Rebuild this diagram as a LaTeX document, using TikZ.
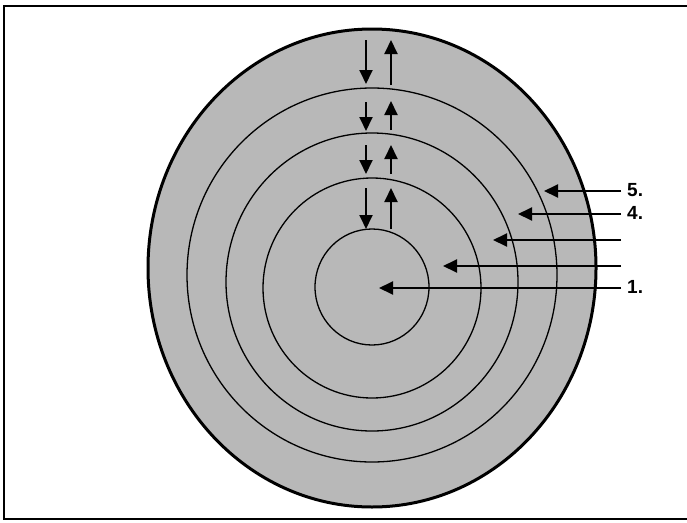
\documentclass[tikz,border=0pt]{standalone}
\usepackage{fontspec}
\setmainfont{Liberation Sans}
\usetikzlibrary{arrows.meta}
\definecolor{ringgray}{RGB}{184,184,184}
\tikzset{
  ring/.style={draw=black, line width=1.3pt},
  outerring/.style={draw=black, line width=3pt},
  flow/.style={line width=1.9pt, -{Triangle[length=14pt,width=13pt]}},
  lbl/.style={font={\fontsize{19}{19}\selectfont\bfseries}, anchor=west, inner sep=0pt},
  frame/.style={line width=2.6pt}
}
\begin{document}
\begin{tikzpicture}[x=1pt,y=-1pt]
\useasboundingbox (0,0) rectangle (687,522);
% frame
\draw[frame] (687,6) -- (4,6) -- (4,519) -- (687,519);
% rings
\fill[ringgray] (372,268) ellipse [x radius=224, y radius=239];
\draw[ring] (372,275) ellipse [x radius=185, y radius=187];
\draw[ring] (372,282) ellipse [x radius=146, y radius=149];
\draw[ring] (372,288) ellipse [x radius=109, y radius=110];
\draw[ring] (372,287) ellipse [x radius=57, y radius=58];
\draw[outerring] (372,268) ellipse [x radius=224, y radius=239];
% vertical arrow endpoints
\coordinate (d1s) at (366,40);  \coordinate (d1e) at (366,84);
\coordinate (u1s) at (391,85);  \coordinate (u1e) at (391,40);
\coordinate (d2s) at (366,102); \coordinate (d2e) at (366,131);
\coordinate (u2s) at (391,130); \coordinate (u2e) at (391,101);
\coordinate (d3s) at (366,145); \coordinate (d3e) at (366,174);
\coordinate (u3s) at (391,174); \coordinate (u3e) at (391,145);
\coordinate (d4s) at (366,188); \coordinate (d4e) at (366,229);
\coordinate (u4s) at (391,229); \coordinate (u4e) at (391,188);
\draw[flow] (d1s) -- (d1e);
\draw[flow] (u1s) -- (u1e);
\draw[flow] (d2s) -- (d2e);
\draw[flow] (u2s) -- (u2e);
\draw[flow] (d3s) -- (d3e);
\draw[flow] (u3s) -- (u3e);
\draw[flow] (d4s) -- (d4e);
\draw[flow] (u4s) -- (u4e);
% horizontal arrows
\coordinate (h5s) at (621,191); \coordinate (h5e) at (544,191);
\coordinate (h4s) at (621,214); \coordinate (h4e) at (518,214);
\coordinate (h3s) at (621,240); \coordinate (h3e) at (493,240);
\coordinate (h2s) at (621,266); \coordinate (h2e) at (443,266);
\coordinate (h1s) at (621,288); \coordinate (h1e) at (379,288);
\draw[flow] (h5s) -- (h5e);
\draw[flow] (h4s) -- (h4e);
\draw[flow] (h3s) -- (h3e);
\draw[flow] (h2s) -- (h2e);
\draw[flow] (h1s) -- (h1e);
\node[lbl] (l5) at (627,190) {5.};
\node[lbl] (l4) at (627,213) {4.};
\node[lbl] (l1) at (627,287) {1.};
\end{tikzpicture}
\end{document}
